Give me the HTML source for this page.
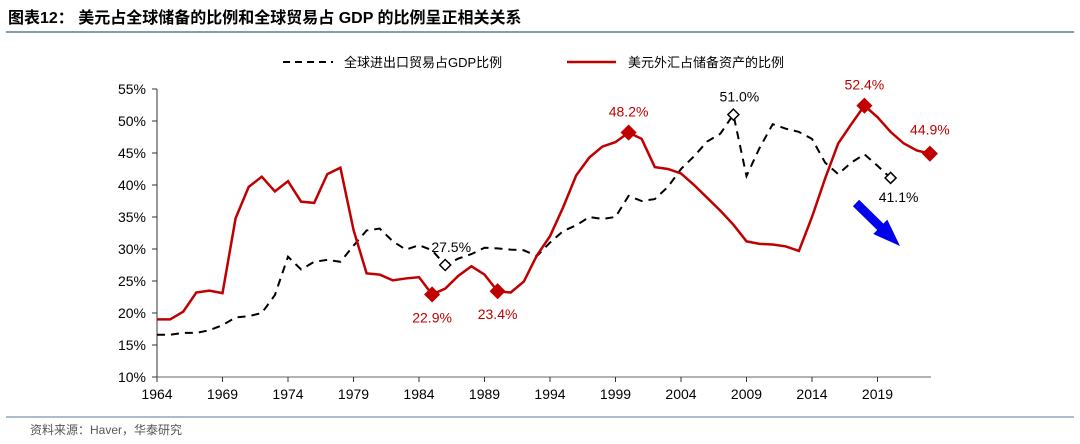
<!DOCTYPE html>
<html><head><meta charset="utf-8"><style>
body{margin:0;width:1080px;height:439px;background:#fff;font-family:"Liberation Sans","Noto Sans CJK SC",sans-serif;overflow:hidden}
</style></head><body>
<svg width="1080" height="439" id="svg" font-family="Liberation Sans, Noto Sans CJK SC, sans-serif">
<text x="8" y="23" font-size="16" font-weight="bold" fill="#000">图表12：  美元占全球储备的比例和全球贸易占 GDP 的比例呈正相关关系</text>
<line x1="6" y1="32" x2="1074" y2="32" stroke="#5a7a9a" stroke-width="1.5"/>
<g>
<line x1="283" y1="62" x2="333" y2="62" stroke="#000" stroke-width="2" stroke-dasharray="7,5"/>
<text x="344" y="67" font-size="13">全球进出口贸易占GDP比例</text>
<line x1="567" y1="62" x2="616" y2="62" stroke="#c00000" stroke-width="2.5"/>
<text x="628" y="67" font-size="13">美元外汇占储备资产的比例</text>
</g>
<g id="axes"></g><g id="plot"></g>
<path d="M852.9 206.2 L859.1 199.8 L883.4 223.6 L887.3 219.6 L900 246 L873.3 234 L877.2 230 Z" fill="#0000ee"/>
<line x1="6" y1="417" x2="1074" y2="417" stroke="#5a7a9a" stroke-width="1"/>
<text x="30" y="434" font-size="12" fill="#555">资料来源：Haver，华泰研究</text>
</svg>
<script>
const years=[];for(let y=1964;y<=2023;y++)years.push(y);
const usdShare=[19,19,20.2,23.2,23.5,23.1,34.8,39.7,41.3,39,40.6,37.4,37.2,41.7,42.7,33,26.2,26,25.1,25.4,25.6,22.9,23.8,25.8,27.3,26,23.4,23.2,24.9,29,32,36.5,41.5,44.3,46,46.7,48.2,47.2,42.8,42.5,41.8,40,38,36,33.8,31.2,30.8,30.7,30.4,29.7,35,41,46.5,49.5,52.4,50.6,48.3,46.5,45.4,44.9];
const tradeShare=[16.6,16.6,16.9,16.9,17.3,18.1,19.3,19.5,20,22.8,28.8,26.8,28,28.3,28,30.5,32.9,33.2,31.2,29.9,30.6,29.8,27.5,28.5,29.2,30.2,30.1,29.9,29.8,28.9,31,32.8,33.7,35,34.7,35,38.3,37.5,37.8,39.7,42.5,44.5,46.8,48,51,41.4,45.8,49.5,48.8,48.3,47.2,43.5,41.7,43.5,44.8,43,41.1];
const yTicks=[10,15,20,25,30,35,40,45,50,55];
const xTicks=[1964,1969,1974,1979,1984,1989,1994,1999,2004,2009,2014,2019];
const usdMarks=[1985,1990,2000,2018,2023];
const tradeMarks=[1986,2008,2020];
const NS="http://www.w3.org/2000/svg";
const X=y=>157+(y-1964)*13.1, Y=v=>377-(v-10)*6.4;
function el(t,a,p){const e=document.createElementNS(NS,t);for(const k in a)e.setAttribute(k,a[k]);p.appendChild(e);return e;}
const ax=document.getElementById('axes'),pl=document.getElementById('plot');
let e=el('line',{x1:157,y1:89,x2:157,y2:377,stroke:'#333'},ax);

e=el('line',{x1:157,y1:377,x2:931,y2:377,stroke:'#666'},ax);

yTicks.forEach(v=>{el('line',{x1:152,x2:157,y1:Y(v),y2:Y(v),stroke:'#333'},ax);
const t=el('text',{x:146,y:Y(v)+5,'font-size':14,'text-anchor':'end'},ax);t.textContent=v+'%';
});
xTicks.forEach(y=>{el('line',{x1:X(y),x2:X(y),y1:377,y2:382,stroke:'#333'},ax);
const t=el('text',{x:X(y),y:399,'font-size':14,'text-anchor':'middle'},ax);t.textContent=y;
});
e=el('path',{d:tradeShare.map((v,i)=>(i?'L':'M')+X(years[i])+' '+Y(v)).join(''),fill:'none',stroke:'#000','stroke-width':2,'stroke-dasharray':'8,6'},pl);

e=el('path',{d:usdShare.map((v,i)=>(i?'L':'M')+X(years[i])+' '+Y(v)).join(''),fill:'none',stroke:'#c00000','stroke-width':2.5},pl);

function dia(x,y,r,fill,stroke){return el('path',{d:`M${x} ${y-r}L${x+r} ${y}L${x} ${y+r}L${x-r} ${y}Z`,fill,stroke,'stroke-width':1.5},pl);}
usdMarks.forEach(yr=>{const v=usdShare[yr-1964];const x=X(yr),y=Y(v);
const m=dia(x,y,7,'#c00000','#c00000');
const below=(yr==1985||yr==1990);
const t=el('text',{x:x,y:below?y+28:y-16,'font-size':14,fill:'#c00000','text-anchor':'middle'},pl);
if(yr==2023){t.setAttribute('y',y-19);}
t.textContent=v.toFixed(1)+'%';});
tradeMarks.forEach(yr=>{const v=tradeShare[yr-1964];const x=X(yr),y=Y(v);
const m=dia(x,y,5.5,'#fff','#000');
const below=yr==2020;
const t=el('text',{x:below?x+8:x+6,y:below?y+24:y-13,'font-size':14,fill:'#000','text-anchor':'middle'},pl);
t.textContent=v.toFixed(1)+'%';});
</script>
</body></html>
